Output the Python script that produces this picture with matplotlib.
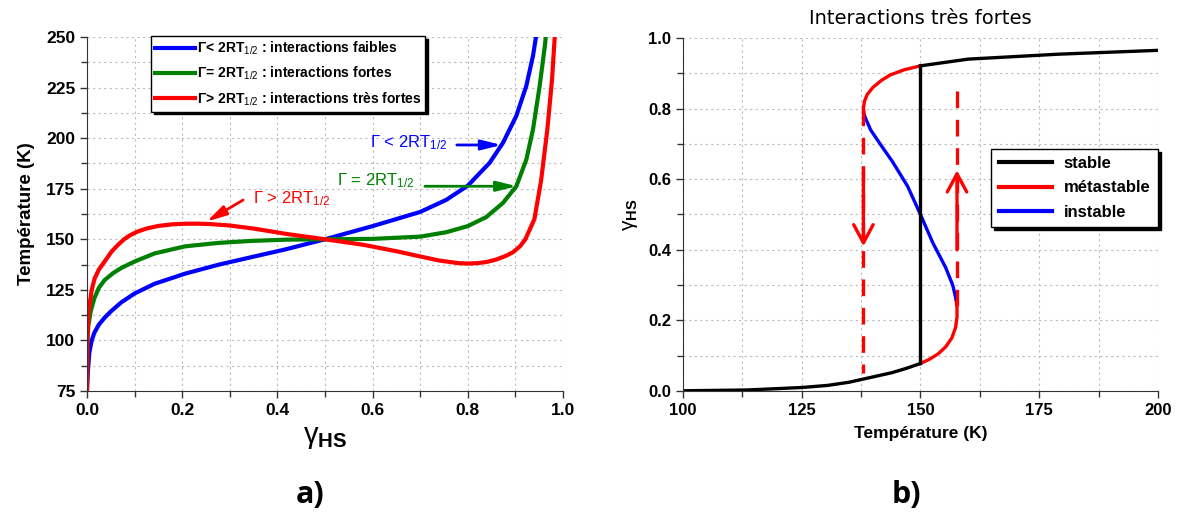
import matplotlib
matplotlib.use("Agg")
import numpy as np
import matplotlib.pyplot as plt
from matplotlib.lines import Line2D
from matplotlib.ticker import MultipleLocator

plt.rcParams["font.family"] = ["Liberation Sans", "DejaVu Sans"]
plt.rcParams["mathtext.fontset"] = "custom"
plt.rcParams["mathtext.rm"] = "Liberation Sans"
plt.rcParams["mathtext.bf"] = "Liberation Sans:bold"
plt.rcParams["mathtext.it"] = "Liberation Sans:italic"

# --- panel a: T(gamma_HS) for three interaction strengths ---
gamma_blue = [0.0, 0.002, 0.005, 0.01, 0.0155, 0.025, 0.037, 0.05, 0.072, 0.1, 0.142,
              0.206, 0.276, 0.346, 0.417, 0.5, 0.6, 0.7, 0.755, 0.8, 0.846, 0.874,
              0.902, 0.923, 0.937, 0.946]
T_blue = [75, 85, 94, 100, 103.8, 107.8, 111.2, 114.3, 118.8, 123.2, 128,
          133, 137.4, 141.2, 145, 150, 156.5, 163.5, 169.5, 176.5, 187.8, 197.7,
          211, 225.8, 240.7, 254]

gamma_green = [0.0, 0.001, 0.003, 0.008, 0.0155, 0.025, 0.037, 0.055, 0.072, 0.1, 0.142,
               0.206, 0.276, 0.346, 0.417, 0.5, 0.6, 0.7, 0.755, 0.8, 0.839, 0.874,
               0.902, 0.923, 0.937, 0.951, 0.962, 0.966]
T_green = [75, 100, 107.5, 114.5, 120.8, 126, 129.8, 133.3, 135.8, 139, 143,
           146.5, 148.2, 149.2, 149.8, 150, 150.2, 151.3, 153.5, 156.5, 161, 168,
           176.2, 189.4, 204.3, 225.8, 245.7, 255]

gamma_red = [0.0, 0.0007, 0.003, 0.006, 0.01, 0.016, 0.025, 0.037, 0.052, 0.065, 0.078,
             0.09, 0.105, 0.125, 0.15, 0.18, 0.21, 0.235, 0.26, 0.3, 0.35, 0.42, 0.5,
             0.58, 0.65, 0.7, 0.74, 0.78, 0.8, 0.82, 0.84, 0.86, 0.88, 0.895, 0.91,
             0.921, 0.94, 0.954, 0.967, 0.977, 0.984]
T_red = [75, 100, 113.5, 118.5, 125, 130.5, 135, 139, 144, 147.2, 150,
         151.9, 153.7, 155.3, 156.6, 157.4, 157.7, 157.7, 157.5, 156.8, 155.3, 152.6, 150,
         147.3, 144.1, 141.5, 139.5, 138.2, 138.0, 138.2, 138.8, 140.0, 141.8, 143.6, 146.6,
         150, 160, 179, 204, 229, 255]

legend_a = [r"Γ< 2RT$_{1/2}$ : interactions faibles",
            r"Γ= 2RT$_{1/2}$ : interactions fortes",
            r"Γ> 2RT$_{1/2}$ : interactions très fortes"]
notes_a = [r"Γ < 2RT$_{1/2}$", r"Γ = 2RT$_{1/2}$", r"Γ > 2RT$_{1/2}$"]

# --- panel b: branches cut out of the strong-interaction curve ---
T_eq = 150
gamma_jump = [0.078, 0.921]          # ends of the vertical stable jump
gamma_spinodal = [0.26, 0.78]        # metastable / unstable limits
T_down, T_up = 138.0, 157.7          # hysteresis jumps
gamma_down = [0.80, 0.05]
gamma_up = [0.24, 0.88]
arrow_down = [0.625, 0.41]
arrow_up = [0.40, 0.625]
legend_b = ["stable", "métastable", "instable"]

fig = plt.figure(figsize=(11.83, 5.2), dpi=100)
ax1 = fig.add_axes([0.0735, 0.248, 0.4024, 0.681])
ax2 = fig.add_axes([0.5773, 0.248, 0.4015, 0.679])

grid_kw = dict(color="#bbbbbb", linestyle=(0, (2, 3)), linewidth=0.8)

for ax in (ax1, ax2):
    for s in ("top", "right"):
        ax.spines[s].set_visible(False)
    for s in ("left", "bottom"):
        ax.spines[s].set_color("#333333")
    ax.tick_params(which="major", direction="out", length=5, width=1, color="#333333")
    ax.tick_params(which="minor", direction="out", length=4, width=1, color="#333333")
    ax.grid(True, which="both", **grid_kw)
    ax.set_axisbelow(True)

# panel a
ax1.plot(gamma_blue, T_blue, color="#0000ff", lw=3)
ax1.plot(gamma_green, T_green, color="#008000", lw=3)
ax1.plot(gamma_red, T_red, color="#ff0000", lw=3)
ax1.set_xlim(0, 1)
ax1.set_ylim(75, 250)
ax1.xaxis.set_major_locator(MultipleLocator(0.2))
ax1.xaxis.set_minor_locator(MultipleLocator(0.1))
ax1.yaxis.set_major_locator(MultipleLocator(25))
ax1.yaxis.set_minor_locator(MultipleLocator(12.5))
ax1.set_xticklabels([f"{v:.1f}" for v in ax1.get_xticks()])
for lab in ax1.get_xticklabels() + ax1.get_yticklabels():
    lab.set_fontweight("bold")
    lab.set_fontsize(12.5)
ax1.set_ylabel("Température (K)", fontsize=13.5, fontweight="bold", labelpad=8)
ax1.set_xlabel(r"γ$_{\mathbf{HS}}$", fontsize=21, labelpad=4)

handles = [Line2D([], [], color=c, lw=3) for c in ("#0000ff", "#008000", "#ff0000")]
leg = ax1.legend(handles, legend_a, loc="upper left", bbox_to_anchor=(0.134, 1.003),
                 borderaxespad=0, fancybox=False, framealpha=1, edgecolor="black",
                 shadow={"color": "black", "alpha": 1}, handlelength=2.9,
                 handletextpad=0.1, labelspacing=0.55, borderpad=0.3,
                 prop={"weight": "bold", "size": 10})
leg.get_frame().set_linewidth(1)

arrow_a = dict(arrowstyle="-|>,head_length=1.2,head_width=0.3", lw=2,
               shrinkA=0, shrinkB=0)
ax1.annotate("", xy=(0.871, 196.6), xytext=(0.777, 196.6),
             arrowprops=dict(color="#0000ff", **arrow_a))
ax1.text(0.595, 195.5, notes_a[0], color="#0000ff", fontsize=12, va="baseline")
ax1.annotate("", xy=(0.903, 176.2), xytext=(0.71, 176.2),
             arrowprops=dict(color="#008000", **arrow_a))
ax1.text(0.525, 176.8, notes_a[1], color="#008000", fontsize=12, va="baseline")
ax1.annotate("", xy=(0.251, 158.7), xytext=(0.328, 169.4),
             arrowprops=dict(color="#ff0000", **arrow_a))
ax1.text(0.349, 167.8, notes_a[2], color="#ff0000", fontsize=12, va="baseline")

# panel b
g = np.array(gamma_red)
t = np.array(T_red)
low = g <= gamma_jump[0]
high = g >= gamma_jump[1]
meta1 = (g >= gamma_jump[0]) & (g <= gamma_spinodal[0])
meta2 = (g >= gamma_spinodal[1]) & (g <= gamma_jump[1])
unst = (g >= gamma_spinodal[0]) & (g <= gamma_spinodal[1])

ax2.plot(t[meta1], g[meta1], color="#ff0000", lw=2.4)
ax2.plot(t[meta2], g[meta2], color="#ff0000", lw=2.4)
ax2.plot(t[unst], g[unst], color="#0000ff", lw=2.4)
ax2.plot(t[low], g[low], color="black", lw=2.4, solid_capstyle="butt")
ax2.plot(t[high], g[high], color="black", lw=2.4)
ax2.plot([T_eq, T_eq], gamma_jump, color="black", lw=2.4)

ax2.plot([T_down, T_down], gamma_down, color="#ff0000", lw=2.4, dashes=(5, 3.5))
ax2.plot([T_up, T_up], gamma_up, color="#ff0000", lw=2.4, dashes=(5, 3.5))
arrow_b = dict(arrowstyle="->,head_length=0.65,head_width=0.35", color="#ff0000",
               lw=2.4, mutation_scale=20, shrinkA=0, shrinkB=0)
ax2.annotate("", xy=(T_down, arrow_down[1]), xytext=(T_down, arrow_down[0]),
             arrowprops=arrow_b)
ax2.annotate("", xy=(T_up, arrow_up[1]), xytext=(T_up, arrow_up[0]),
             arrowprops=arrow_b)

ax2.set_xlim(100, 200)
ax2.set_ylim(0, 1)
ax2.xaxis.set_major_locator(MultipleLocator(25))
ax2.xaxis.set_minor_locator(MultipleLocator(12.5))
ax2.yaxis.set_major_locator(MultipleLocator(0.2))
ax2.yaxis.set_minor_locator(MultipleLocator(0.1))
ax2.set_yticklabels([f"{v:.1f}" for v in ax2.get_yticks()])
for lab in ax2.get_xticklabels() + ax2.get_yticklabels():
    lab.set_fontweight("bold")
    lab.set_fontsize(12)
ax2.set_xlabel("Température (K)", fontsize=12.5, fontweight="bold", labelpad=6)
ax2.set_ylabel(r"γ$_{\mathbf{HS}}$", fontsize=15, labelpad=6)
ax2.set_title("Interactions très fortes", fontsize=14, family="DejaVu Sans", pad=10)

handles_b = [Line2D([], [], color=c, lw=3) for c in ("black", "#ff0000", "#0000ff")]
leg2 = ax2.legend(handles_b, legend_b, loc="upper right", bbox_to_anchor=(1.0, 0.686),
                  borderaxespad=0, fancybox=False, framealpha=1, edgecolor="black",
                  shadow={"color": "black", "alpha": 1}, handlelength=3.2,
                  handletextpad=0.7, labelspacing=0.55, borderpad=0.45,
                  prop={"weight": "bold", "size": 12})
leg2.get_frame().set_linewidth(1)

fig.text(0.262, 0.048, "a)", fontsize=22, fontweight="bold", family="Open Sans",
         ha="center", va="center")
fig.text(0.766, 0.048, "b)", fontsize=22, fontweight="bold", family="Open Sans",
         ha="center", va="center")

fig.savefig("out.png", dpi=100)
